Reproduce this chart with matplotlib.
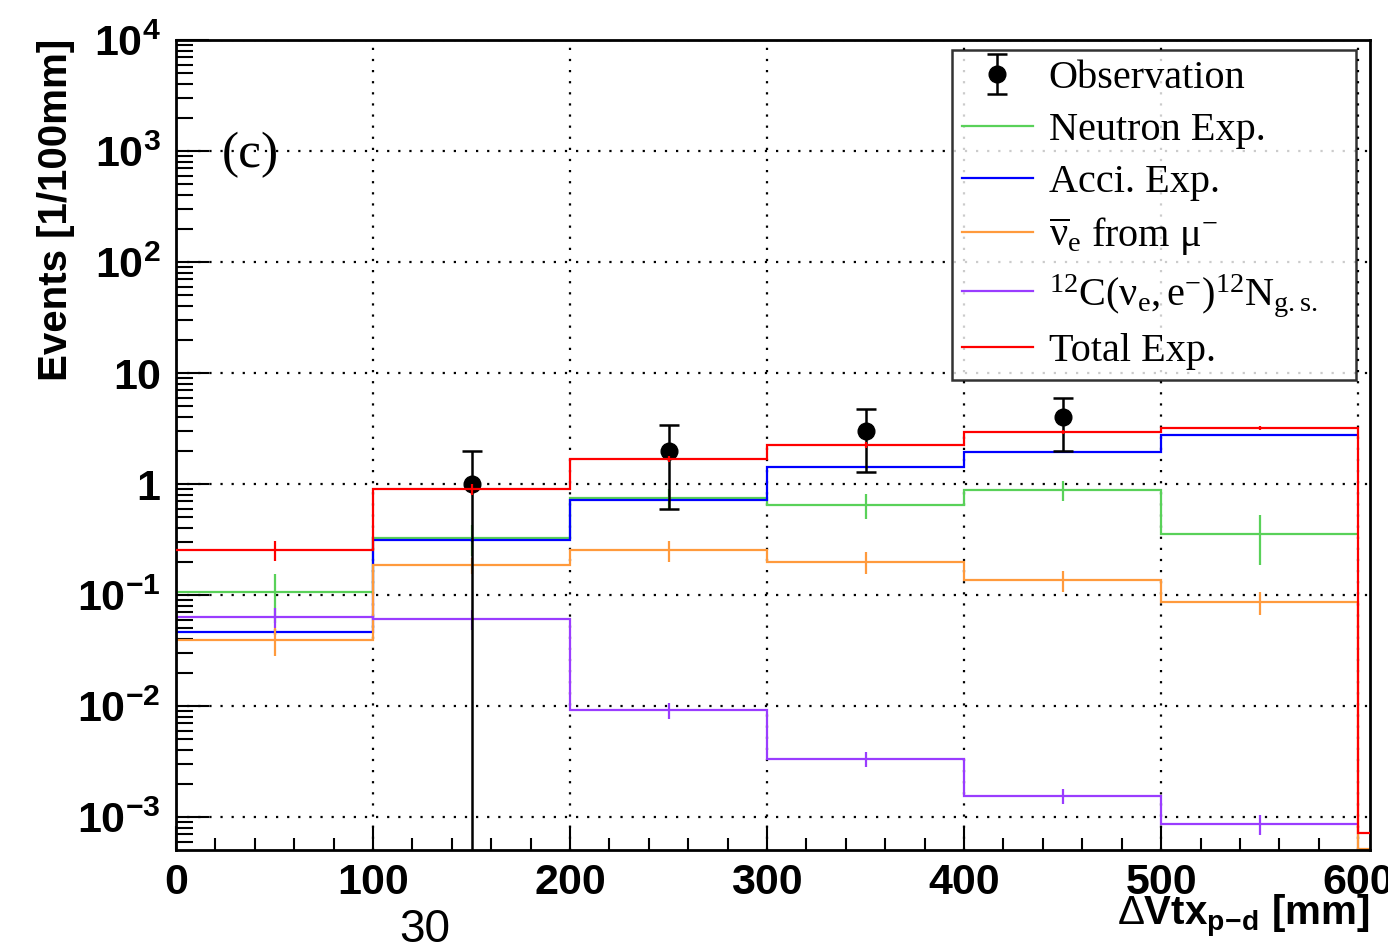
import matplotlib
matplotlib.use('Agg')
import matplotlib.pyplot as plt
from matplotlib.lines import Line2D
from matplotlib.ticker import FixedLocator, MultipleLocator, LogLocator, NullFormatter

plt.rcParams['mathtext.fontset'] = 'custom'
plt.rcParams['mathtext.rm'] = 'Liberation Serif'
plt.rcParams['mathtext.it'] = 'Liberation Serif:italic'
plt.rcParams['mathtext.bf'] = 'Liberation Sans:bold'
plt.rcParams['mathtext.sf'] = 'Liberation Sans'

# binning (last bin is the overflow shown up to the frame edge)
bin_edges = [0, 100, 200, 300, 400, 500, 600]
overflow_edge = 606
bin_centers = [50, 150, 250, 350, 450, 550]

# expectations per bin
neutron = [0.106, 0.326, 0.748, 0.647, 0.88, 0.355]
neutron_err = [0.05, 0.1, 0.15, 0.16, 0.18, 0.17]
acci = [0.0464, 0.313, 0.717, 1.42, 1.94, 2.76]
acci_err = [0.003, 0.01, 0.02, 0.03, 0.04, 0.05]
nuebar = [0.0393, 0.186, 0.254, 0.198, 0.136, 0.0865]
nuebar_err = [0.011, 0.03, 0.055, 0.045, 0.03, 0.02]
c12 = [0.0633, 0.0608, 0.0092, 0.00333, 0.00155, 0.000865]
c12_err = [0.013, 0.012, 0.0015, 0.0005, 0.00025, 0.00017]
total = [0.254, 0.90, 1.68, 2.25, 2.94, 3.2]
total_err = [0.05, 0.1, 0.1, 0.12, 0.12, 0.15]
total_overflow = 7.2e-4
nuebar_overflow = 5.1e-4

# observed events
obs_x = [150, 250, 350, 450]
obs = [1, 2, 3, 4]
obs_err = [1.0, 1.41, 1.73, 2.0]

ytick_vals = [1e-3, 1e-2, 1e-1, 1, 10, 1e2, 1e3, 1e4]
ytick_labels = [r'$\mathbf{10^{-3}}$', r'$\mathbf{10^{-2}}$', r'$\mathbf{10^{-1}}$', r'$\mathbf{1}$',
                r'$\mathbf{10}$', r'$\mathbf{10^{2}}$', r'$\mathbf{10^{3}}$', r'$\mathbf{10^{4}}$']

green = '#59d159'
blue = '#0000ff'
orange = '#ff9a3c'
purple = '#9a3cff'
red = '#ff0000'

fig = plt.figure(figsize=(13.88, 9.51), dpi=100)
ax = fig.add_axes([0.1268, 0.1062, 0.8602, 0.8518])
ax.set_yscale('log')

lw = 1.6
ax.stairs(neutron, bin_edges, color=green, lw=lw, baseline=None, zorder=2)
ax.errorbar(bin_centers, neutron, yerr=neutron_err, fmt='none', ecolor=green, elinewidth=lw, capsize=0, zorder=2)
ax.stairs(acci, bin_edges, color=blue, lw=lw, baseline=None, zorder=2)
ax.errorbar(bin_centers, acci, yerr=acci_err, fmt='none', ecolor=blue, elinewidth=lw, capsize=0, zorder=2)
ax.stairs(nuebar + [nuebar_overflow], bin_edges + [overflow_edge], color=orange, lw=lw, baseline=None, zorder=2)
ax.errorbar(bin_centers, nuebar, yerr=nuebar_err, fmt='none', ecolor=orange, elinewidth=lw, capsize=0, zorder=2)
ax.stairs(c12, bin_edges, color=purple, lw=lw, baseline=None, zorder=2)
ax.errorbar(bin_centers, c12, yerr=c12_err, fmt='none', ecolor=purple, elinewidth=lw, capsize=0, zorder=2)

obs_handle = ax.errorbar(obs_x, obs, yerr=obs_err, fmt='o', color='black', ms=12, elinewidth=1.8,
                         capsize=7, capthick=1.8, zorder=3)

ax.stairs(total + [total_overflow], bin_edges + [overflow_edge], color=red, lw=lw, baseline=None, zorder=4)
ax.errorbar(bin_centers, total, yerr=total_err, fmt='none', ecolor=red, elinewidth=lw, capsize=0, zorder=4)

ax.set_xlim(0, overflow_edge)
ax.set_ylim(5.04e-4, 1e4)

ax.xaxis.set_major_locator(MultipleLocator(100))
ax.xaxis.set_minor_locator(MultipleLocator(20))
ax.yaxis.set_major_locator(FixedLocator(ytick_vals))
ax.yaxis.set_minor_locator(LogLocator(base=10, subs=range(2, 10), numticks=20))
ax.yaxis.set_minor_formatter(NullFormatter())
ax.set_yticklabels(ytick_labels)
ax.set_xticks([0, 100, 200, 300, 400, 500, 600])
ax.set_xticklabels(['0', '100', '200', '300', '400', '500', '600'])

ax.tick_params(axis='x', which='major', direction='in', length=17, width=1.5, pad=9,
               labelsize=31, top=False)
ax.tick_params(axis='x', which='minor', direction='in', length=9, width=1.5, top=False)
ax.tick_params(axis='y', which='major', direction='in', length=24, width=1.5, pad=11,
               labelsize=31, right=False)
ax.tick_params(axis='y', which='minor', direction='in', length=12, width=1.5, right=False)
for lab in ax.get_xticklabels():
    lab.set_fontfamily('Liberation Sans')
    lab.set_fontweight('bold')

for sp in ax.spines.values():
    sp.set_linewidth(2)

ax.grid(True, which='major', color='black', linestyle=(0, (1, 4)), linewidth=1.6)
ax.set_axisbelow(True)

ax.set_ylabel('Events [1/100mm]', fontsize=29, fontweight='bold', family='Liberation Sans')
ax.yaxis.set_label_coords(-0.085, 0.79)

fig.text(0.987, 0.0265, r'$\mathsf{\Delta}\mathbf{Vtx_{p\!-\!d}}$ [mm]', ha='right', va='baseline',
         fontsize=29, fontweight='bold', family='Liberation Sans')

ax.text(0.0385, 0.858, '(c)', transform=ax.transAxes, va='center', ha='left',
        fontsize=37, family='Liberation Serif')

fig.text(425 / 1388, 1 - 930 / 951, '30', ha='center', va='center', fontsize=33, family='Liberation Sans')

handles = [
    obs_handle,
    Line2D([], [], color=green, lw=1.6),
    Line2D([], [], color=blue, lw=1.6),
    Line2D([], [], color=orange, lw=1.6),
    Line2D([], [], color=purple, lw=1.6),
    Line2D([], [], color=red, lw=1.6),
]
labels = [
    'Observation',
    'Neutron Exp.',
    'Acci. Exp.',
    r'$\overline{\mathrm{\nu}}_{\mathrm{e}}$ from $\mathrm{\mu}^{-}$',
    r'$^{12}\mathrm{C(\nu}_{\mathrm{e}}\mathrm{,e}^{-}\mathrm{)}^{12}\mathrm{N}_{\mathrm{g.s.}}$',
    'Total Exp.',
]
leg = ax.legend(handles, labels, loc='upper left', bbox_to_anchor=(0.650, 0.5765, 0.338, 0.411),
                mode='expand', prop={'family': 'Liberation Serif', 'size': 29},
                frameon=True, fancybox=False, borderpad=0.25, labelspacing=0.36,
                handlelength=1.75, handletextpad=0.4, borderaxespad=0)
leg.get_frame().set_edgecolor('black')
leg.get_frame().set_linewidth(1.8)
leg.set_zorder(10)

fig.savefig('out.png', dpi=100)
